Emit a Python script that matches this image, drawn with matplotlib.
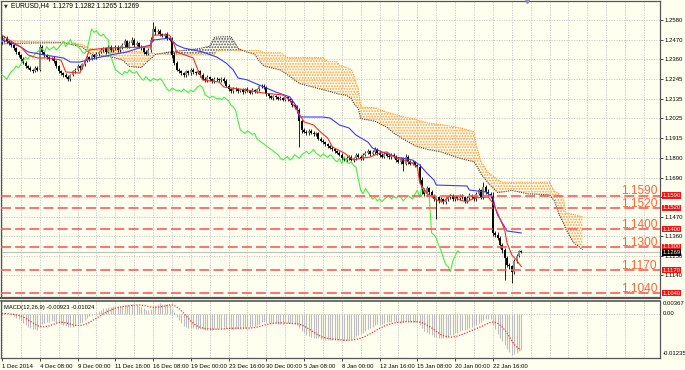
import matplotlib
matplotlib.use("Agg")
import matplotlib.pyplot as plt
import matplotlib.transforms as mtransforms
import numpy as np
import pandas as pd

plt.rcParams['font.family'] = ['Liberation Sans', 'DejaVu Sans']
plt.rcParams['hatch.linewidth'] = 0.9

# ---- price data (EURUSD H4) ----
first_open = 1.2455
closes = [
    1.2470, 1.2480, 1.2460, 1.2450, 1.2440, 1.2420, 1.2400, 1.2380, 1.2360, 1.2340,
    1.2320, 1.2310, 1.2300, 1.2295, 1.2310, 1.2300, 1.2430, 1.2400, 1.2380, 1.2370,
    1.2360, 1.2365, 1.2350, 1.2320, 1.2290, 1.2280, 1.2270, 1.2260, 1.2245, 1.2270,
    1.2290, 1.2300, 1.2320, 1.2310, 1.2330, 1.2350, 1.2370, 1.2360, 1.2380, 1.2370,
    1.2390, 1.2400, 1.2410, 1.2420, 1.2400, 1.2430, 1.2410, 1.2420, 1.2430, 1.2410,
    1.2425, 1.2440, 1.2460, 1.2430, 1.2450, 1.2470, 1.2440, 1.2450, 1.2430, 1.2420,
    1.2400, 1.2390, 1.2410, 1.2470, 1.2530, 1.2510, 1.2520, 1.2500, 1.2490, 1.2500,
    1.2480, 1.2470, 1.2380, 1.2340, 1.2300, 1.2290, 1.2280, 1.2270, 1.2290, 1.2280,
    1.2300, 1.2285, 1.2280, 1.2290, 1.2270, 1.2250, 1.2240, 1.2260, 1.2245, 1.2235,
    1.2250, 1.2245, 1.2240, 1.2250, 1.2235, 1.2210, 1.2190, 1.2180, 1.2195, 1.2190,
    1.2180, 1.2185, 1.2175, 1.2190, 1.2180, 1.2170, 1.2185, 1.2175, 1.2190, 1.2205,
    1.2210, 1.2200, 1.2160, 1.2150, 1.2140, 1.2150, 1.2145, 1.2135, 1.2140, 1.2130,
    1.2145, 1.2135, 1.2125, 1.2100, 1.2090, 1.2070, 1.2010, 1.1960, 1.1950, 1.1940,
    1.1955, 1.1945, 1.1935, 1.1940, 1.1910, 1.1900, 1.1890, 1.1880, 1.1870, 1.1860,
    1.1850, 1.1840, 1.1830, 1.1820, 1.1800, 1.1790, 1.1800, 1.1810, 1.1790, 1.1800,
    1.1820, 1.1810, 1.1800, 1.1820, 1.1830, 1.1840, 1.1825, 1.1835, 1.1850, 1.1830,
    1.1820, 1.1810, 1.1825, 1.1815, 1.1805, 1.1820, 1.1810, 1.1790, 1.1780, 1.1800,
    1.1770, 1.1810, 1.1780, 1.1770, 1.1780, 1.1760, 1.1750, 1.1680, 1.1620, 1.1600,
    1.1630, 1.1610, 1.1590, 1.1570, 1.1580, 1.1560, 1.1570, 1.1555, 1.1570, 1.1580,
    1.1590, 1.1570, 1.1585, 1.1575, 1.1590, 1.1580, 1.1560, 1.1575, 1.1590, 1.1580,
    1.1570, 1.1600, 1.1620, 1.1580, 1.1640, 1.1610, 1.1600, 1.1590, 1.1380, 1.1370,
    1.1350, 1.1310, 1.1280, 1.1240, 1.1200, 1.1190, 1.1160, 1.1220, 1.1250, 1.1279,
    1.1269,
]
# wick lengths above / below the body, in pips
up_pips = [
    25, 10, 12, 8, 9, 7, 10, 8, 6, 9,   8, 7, 10, 6, 12, 8, 15, 10, 8, 7,
    9, 8, 10, 7, 9, 8, 6, 10, 8, 7,     9, 8, 10, 7, 9, 8, 12, 7, 10, 8,
    9, 8, 12, 10, 8, 9, 11, 7, 10, 8,   9, 10, 15, 8, 10, 15, 8, 9, 7, 10,
    8, 9, 10, 12, 40, 15, 12, 10, 9, 8, 10, 9, 15, 20, 10, 8, 9, 7, 10, 8,
    12, 9, 8, 10, 7, 9, 8, 10, 7, 9,    8, 9, 7, 10, 8, 10, 9, 8, 7, 9,
    8, 7, 9, 8, 10, 7, 9, 8, 7, 10,     9, 8, 10, 9, 8, 7, 9, 8, 10, 7,
    9, 8, 7, 10, 9, 8, 15, 10, 9, 12,   9, 8, 10, 7, 9, 8, 10, 9, 8, 7,
    9, 8, 7, 10, 9, 8, 12, 10, 9, 8,    10, 9, 8, 12, 9, 10, 8, 9, 15, 10,
    9, 8, 10, 7, 9, 12, 8, 10, 9, 8,    10, 15, 9, 8, 10, 7, 9, 20, 15, 12,
    15, 10, 12, 9, 10, 8, 9, 7, 10, 8,  9, 10, 8, 9, 10, 8, 9, 10, 12, 8,
    10, 12, 15, 9, 26, 10, 15, 9, 20, 10, 12, 10, 15, 12, 10, 9, 8, 10, 12, 5,
    3,
]
dn_pips = [
    10, 12, 8, 9, 10, 8, 9, 10, 12, 9,  10, 8, 9, 12, 8, 10, 10, 9, 10, 8,
    9, 8, 10, 9, 8, 10, 9, 8, 10, 9,    8, 9, 7, 10, 8, 9, 8, 10, 7, 9,
    8, 9, 7, 10, 9, 8, 10, 9, 8, 10,    9, 8, 10, 9, 8, 10, 12, 9, 8, 10,
    9, 8, 10, 8, 10, 12, 9, 10, 8, 9,   10, 9, 15, 12, 10, 9, 8, 10, 9, 8,
    9, 8, 10, 7, 9, 8, 10, 9, 8, 9,     8, 9, 10, 8, 9, 10, 8, 9, 10, 8,
    9, 8, 10, 9, 8, 10, 9, 8, 9, 10,    9, 8, 10, 9, 8, 10, 9, 8, 7, 9,
    8, 9, 10, 9, 10, 12, 145, 15, 10, 9, 10, 9, 8, 10, 9, 10, 8, 9, 10, 8,
    9, 10, 8, 9, 10, 8, 9, 10, 8, 9,    8, 9, 10, 8, 9, 8, 10, 9, 8, 9,
    10, 9, 8, 10, 9, 8, 10, 9, 8, 10,   40, 9, 10, 8, 10, 9, 10, 25, 20, 15,
    12, 15, 10, 12, 110, 10, 9, 12, 10, 9, 8, 10, 9, 8, 10, 9, 12, 10, 9, 8,
    10, 9, 8, 12, 10, 9, 10, 12, 20, 15, 12, 15, 14, 125, 15, 12, 62, 10, 9, 8,
    4,
]

# ichimoku lines, read as (bar, price) points
tenkan_bar = [0, 3, 8, 11, 15, 20, 25, 27, 33, 35, 37, 44, 63, 64, 71, 73, 74, 81, 83, 85,
              92, 94, 104, 108, 111, 119, 122, 125, 128, 132, 135, 138, 140, 145, 149, 153,
              156, 160, 163, 167, 173, 176, 177, 180, 184, 187, 190, 194, 197, 200, 206,
              208, 210, 213, 214, 216, 218, 220]
tenkan_val = [1.2495, 1.2467, 1.2428, 1.2383, 1.2366, 1.2366, 1.2354, 1.2287, 1.2281, 1.2337,
              1.2411, 1.2422, 1.2428, 1.2495, 1.2495, 1.2439, 1.2400, 1.2366, 1.2298, 1.2242,
              1.2230, 1.2202, 1.2185, 1.2174, 1.2168, 1.2157, 1.2129, 1.2072, 1.2005, 1.1988,
              1.1948, 1.1914, 1.1864, 1.1830, 1.1790, 1.1802, 1.1807, 1.1830, 1.1836, 1.1802,
              1.1779, 1.1751, 1.1661, 1.1604, 1.1565, 1.1554, 1.1593, 1.1565, 1.1554, 1.1576,
              1.1582, 1.1548, 1.1491, 1.1396, 1.1322, 1.1255, 1.1226, 1.1190]
kijun_bar = [0, 3, 8, 11, 18, 26, 29, 33, 36, 46, 53, 58, 63, 64, 71, 74, 77, 81, 85, 91,
             95, 98, 100, 104, 106, 111, 116, 122, 125, 126, 136, 139, 143, 147, 150, 155,
             157, 161, 167, 174, 177, 180, 183, 184, 197, 198, 205, 208, 209, 210, 212, 214, 220]
kijun_val = [1.2467, 1.2456, 1.2428, 1.2400, 1.2383, 1.2366, 1.2343, 1.2343, 1.2354, 1.2383,
             1.2400, 1.2422, 1.2439, 1.2467, 1.2478, 1.2439, 1.2422, 1.2411, 1.2400, 1.2371,
             1.2337, 1.2298, 1.2253, 1.2242, 1.2230, 1.2202, 1.2174, 1.2146, 1.2089, 1.2033,
             1.2033, 1.2027, 1.1988, 1.1971, 1.1931, 1.1892, 1.1858, 1.1836, 1.1807, 1.1790,
             1.1762, 1.1717, 1.1678, 1.1649, 1.1644, 1.1621, 1.1610, 1.1582, 1.1520, 1.1480,
             1.1435, 1.1390, 1.1379]
kumo_bar = [0, 12, 26, 30, 34, 37, 41, 46, 51, 54, 59, 62, 65, 71, 78, 84, 88, 90, 91, 97,
            99, 100, 104, 107, 109, 111, 118, 121, 126, 136, 138, 142, 143, 146, 148, 149,
            150, 151, 152, 158, 163, 166, 170, 175, 180, 186, 193, 200, 201, 203, 206, 210,
            212, 216, 223, 226, 232, 234, 236, 238, 239, 242, 246]
span_a = [1.2445, 1.2450, 1.2452, 1.2440, 1.2428, 1.2392, 1.2378, 1.2373, 1.2355, 1.2318,
          1.2312, 1.2350, 1.2385, 1.2400, 1.2410, 1.2420, 1.2432, 1.2481, 1.2484, 1.2486,
          1.2445, 1.2420, 1.2398, 1.2388, 1.2348, 1.2321, 1.2298, 1.2271, 1.2222, 1.2187,
          1.2180, 1.2165, 1.2162, 1.2155, 1.2137, 1.2110, 1.2095, 1.2080, 1.2024, 1.2009,
          1.1976, 1.1942, 1.1909, 1.1870, 1.1851, 1.1836, 1.1804, 1.1780, 1.1760, 1.1711,
          1.1660, 1.1607, 1.1610, 1.1619, 1.1599, 1.1598, 1.1593, 1.1561, 1.1485, 1.1430,
          1.1398, 1.1327, 1.1285]
span_b = [1.2467, 1.2458, 1.2455, 1.2452, 1.2440, 1.2420, 1.2411, 1.2408, 1.2405, 1.2405,
          1.2400, 1.2395, 1.2390, 1.2385, 1.2383, 1.2383, 1.2383, 1.2383, 1.2408, 1.2408,
          1.2408, 1.2408, 1.2408, 1.2408, 1.2408, 1.2395, 1.2395, 1.2368, 1.2368, 1.2368,
          1.2345, 1.2345, 1.2325, 1.2312, 1.2300, 1.2270, 1.2225, 1.2195, 1.2090, 1.2085,
          1.2060, 1.2050, 1.2035, 1.2020, 1.2000, 1.1990, 1.1975, 1.1950, 1.1870, 1.1780,
          1.1720, 1.1680, 1.1665, 1.1665, 1.1665, 1.1665, 1.1665, 1.1615, 1.1600, 1.1565,
          1.1490, 1.1484, 1.1470]
chikou_shift = 26

levels = [1.1590, 1.1520, 1.1400, 1.1300, 1.1170, 1.1040]
bid = 1.1269
price_ticks = [1.2580, 1.2470, 1.2360, 1.2245, 1.2135, 1.2025, 1.1915, 1.1800,
               1.1690, 1.1580, 1.1470, 1.1360, 1.1250, 1.1140]
hidden_ticks = [1.1580]  # covered by the 1.1590 tag in the terminal
date_labels = ["1 Dec 2014", "4 Dec 08:00", "9 Dec 00:00", "11 Dec 16:00", "16 Dec 08:00",
               "19 Dec 00:00", "23 Dec 16:00", "30 Dec 00:00", "5 Jan 08:00", "8 Jan 00:00",
               "12 Jan 16:00", "15 Jan 08:00", "20 Jan 00:00", "22 Jan 16:00"]
title = "EURUSD,H4  1.1279 1.1282 1.1265 1.1269"
macd_title = "MACD(12,26,9) -0.00923 -0.01024"
macd_max, macd_min = 0.00367, -0.01235

# ---- derived series ----
closes = np.array(closes)
opens = np.concatenate([[first_open], closes[:-1]])
highs = np.maximum(opens, closes) + np.array(up_pips) * 1e-4
lows = np.minimum(opens, closes) - np.array(dn_pips) * 1e-4
bars = np.arange(len(closes))

cs = pd.Series(closes)
macd = (cs.ewm(span=12, adjust=False).mean() - cs.ewm(span=26, adjust=False).mean()).values
signal = pd.Series(macd).rolling(9, min_periods=1).mean().values

kumo_x = np.array(kumo_bar)
sa = np.array(span_a)
sb = np.array(span_b)

BG = '#fffff0'
GRID = '#c4c4c4'
W, H = 685, 370

fig = plt.figure(figsize=(W / 100, H / 100), dpi=100, facecolor=BG)
ax = fig.add_axes([1 / W, 1 - 297.5 / H, 659 / W, 296.5 / H])
ax2 = fig.add_axes([1 / W, 1 - 358 / H, 659 / W, 57.5 / H])

xlim = (-0.42, 278.8)
for a in (ax, ax2):
    a.set_facecolor(BG)
    a.set_xlim(*xlim)
    for s in a.spines.values():
        s.set_color('#555555')
        s.set_linewidth(0.9)
    a.set_xticks(np.arange(0, 279, 8), minor=True)
    a.grid(True, which='both', axis='x', color=GRID, ls=(0, (1.5, 1.5)), lw=0.6, zorder=0)
    a.tick_params(which='minor', length=0)
    a.set_axisbelow(True)
ax.spines['bottom'].set_linewidth(1.6)
ax2.spines['top'].set_linewidth(1.2)

# main panel
ax.set_ylim(1.10149, 1.26872)
ax.yaxis.tick_right()
ax.set_yticks(price_ticks)
ax.set_yticklabels(['' if p in hidden_ticks else '%.4f' % p for p in price_ticks])
ax.grid(True, axis='y', color=GRID, ls=(0, (1.5, 1.5)), lw=0.6, zorder=0)
ax.set_xticks(np.arange(0, 209, 16))
ax.tick_params(axis='x', which='major', length=0, labelbottom=False)
ax.tick_params(axis='y', length=2, width=0.5, pad=1.5, labelsize=4.3, colors='black')

# kumo
ax.fill_between(kumo_x, sa, sb, where=sb >= sa, interpolate=True, facecolor='none',
                edgecolor='#ffa040', hatch='......', linewidth=0, zorder=1)
ax.fill_between(kumo_x, sa, sb, where=sa > sb, interpolate=True, facecolor='none',
                edgecolor='#505050', hatch='......', linewidth=0, zorder=1)
ax.plot(kumo_x, sb, color='#ff9933', ls=(0, (1, 1)), lw=0.8, zorder=1.5)
ax.plot(kumo_x, sa, color='#404040', ls=(0, (1, 1)), lw=0.8, zorder=1.5)

# bid line
ax.axhline(bid, color='#c0c0c0', lw=0.8, zorder=1.8)

# candles
up = closes >= opens
ax.vlines(bars, lows, highs, color='black', lw=0.6, zorder=3)
ax.vlines(bars[up], opens[up], closes[up], color='#8a8a8a', lw=1.4, zorder=3.1)
ax.vlines(bars[~up], closes[~up], opens[~up], color='black', lw=1.4, zorder=3.1)

# ichimoku lines
ax.plot(bars - chikou_shift, closes, color='#44ee44', lw=0.8, zorder=4)
ax.plot(kijun_bar, kijun_val, color='#3a3aff', lw=0.8, zorder=4)
ax.plot(tenkan_bar, tenkan_val, color='#ff2a2a', lw=0.8, zorder=4.1)

# support / resistance lines with labels and price tags
tag_tr = mtransforms.blended_transform_factory(ax.transAxes, ax.transData)
for lv in levels:
    ax.axhline(lv, color='#ff5a5a', lw=1.2, ls=(0, (6, 2.5)), zorder=5)
    ax.text(277.5, lv + 0.0006, '%.4f' % lv, ha='right', va='baseline', fontsize=8.6,
            color='#ff6433', zorder=6)
    ax.text(1.004, lv, '%.4f' % lv, transform=tag_tr, ha='left', va='center', fontsize=4.2,
            color='white', clip_on=False, zorder=7,
            bbox=dict(boxstyle='square,pad=0.12', fc='#ff1010', ec='none'))
ax.text(1.004, bid, '%.4f' % bid, transform=tag_tr, ha='left', va='center', fontsize=4.2,
        color='white', clip_on=False, zorder=7,
        bbox=dict(boxstyle='square,pad=0.12', fc='black', ec='none'))

# header text
ax.text(0.004, 0.983, '\u25bc', transform=ax.transAxes, fontsize=3.5, color='#333333',
        ha='left', va='center', family='DejaVu Sans')
ax.text(0.015, 0.983, title, transform=ax.transAxes, fontsize=4.8, color='black',
        ha='left', va='center')
ax.plot([222.5], [1.26872], marker='v', color='#9090b0', ms=3, clip_on=False, zorder=8)

# MACD panel
ax2.set_ylim(macd_min, macd_max)
ax2.vlines(bars, 0, macd, color='#bdbdbd', lw=0.8, zorder=2)
ax2.plot(bars, signal, color='#ff3030', ls=(0, (1, 1.2)), lw=0.9, zorder=3)
ax2.axhline(0, color=GRID, ls=(0, (1.5, 1.5)), lw=0.6, zorder=0)
ax2.set_yticks([])
ax2.set_xticks(np.arange(0, 209, 16))
ax2.set_xticklabels(date_labels, ha='left')
ax2.tick_params(axis='x', which='major', length=2.5, width=0.5, pad=1.5, labelsize=4.3)
for lbl in ax2.get_xticklabels():
    lbl.set_horizontalalignment('left')
ax2.text(0.004, 0.93, macd_title, transform=ax2.transAxes, fontsize=4.2, ha='left', va='top')
ax2.text(1.004, 0.94, '%.5f' % macd_max, transform=ax2.transAxes, fontsize=4.3,
         ha='left', va='center', clip_on=False)
ax2.text(1.004, 0.0, '0.00', transform=mtransforms.blended_transform_factory(ax2.transAxes, ax2.transData),
         fontsize=4.3, ha='left', va='center', clip_on=False)
ax2.text(1.004, 0.08, '%.5f' % macd_min, transform=ax2.transAxes, fontsize=4.3,
         ha='left', va='center', clip_on=False)

fig.savefig('out.png', dpi=100, facecolor=BG)
